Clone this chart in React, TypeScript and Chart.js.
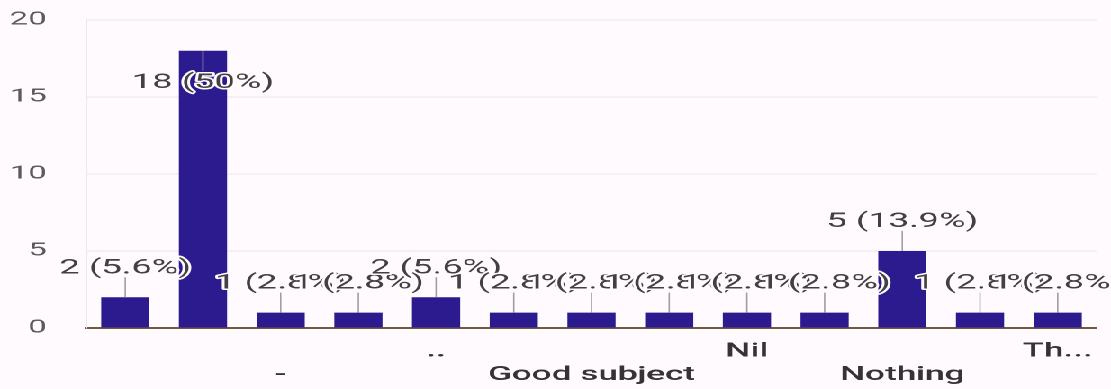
import React, { useEffect, useRef } from "react";
import { Chart, registerables } from "chart.js";

Chart.register(...registerables);

// ---- data ----
const categories = ["", "", "-", "", "..", "", "Good subject", "", "Nil", "", "Nothing", "", "Th..."];
const counts = [2, 18, 1, 1, 2, 1, 1, 1, 1, 1, 5, 1, 1];
const percents = ["5.6%", "50%", "2.8%", "2.8%", "5.6%", "2.8%", "2.8%", "2.8%", "2.8%", "2.8%", "13.9%", "2.8%", "2.8%"];
const yTickValues = [0, 5, 10, 15, 20];

// ---- layout (internal canvas is stretched horizontally to fill the page) ----
const PAGE_W = 1111;
const PAGE_H = 389;
const INNER_W = 617;
const STRETCH = PAGE_W / INNER_W;

const BG = "#fefafe";
const BAR_COLOR = "#2b1b8f";

const valueLabelPlugin = {
  id: "valueLabels",
  afterDatasetsDraw(chart: any) {
    const ctx = chart.ctx as CanvasRenderingContext2D;
    const meta = chart.getDatasetMeta(0);
    const insideFrom = 15;
    const items = meta.data.map((bar: any, i: number) => {
      const v = counts[i];
      const inside = v >= insideFrom;
      const top = bar.y;
      return {
        x: bar.x,
        top,
        lineEnd: inside ? top + 20 : top - 20,
        textY: inside ? top + 32 : top - 29,
        text: `${v} (${percents[i]})`,
      };
    });
    ctx.save();
    ctx.strokeStyle = "#a39ca3";
    ctx.lineWidth = 0.8;
    items.forEach((it: any) => {
      ctx.beginPath();
      ctx.moveTo(it.x, it.top);
      ctx.lineTo(it.x, it.lineEnd);
      ctx.stroke();
    });
    ctx.font = "20.2px Roboto";
    ctx.textAlign = "center";
    ctx.textBaseline = "middle";
    ctx.lineJoin = "round";
    items.forEach((it: any) => {
      ctx.strokeStyle = BG;
      ctx.lineWidth = 3;
      ctx.strokeText(it.text, it.x, it.textY);
      ctx.fillStyle = "#433f43";
      ctx.fillText(it.text, it.x, it.textY);
    });
    ctx.restore();
  },
};

export default function App() {
  const canvasRef = useRef<HTMLCanvasElement | null>(null);

  useEffect(() => {
    document.body.style.margin = "0";
    document.body.style.background = BG;
    document.body.style.overflow = "hidden";
    const canvas = canvasRef.current;
    if (!canvas) return;
    const chart = new Chart(canvas, {
      type: "bar",
      data: {
        labels: categories,
        datasets: [
          {
            data: counts,
            backgroundColor: BAR_COLOR,
            borderWidth: 0,
            barPercentage: 1,
            categoryPercentage: 0.62,
          },
        ],
      },
      options: {
        animation: false,
        responsive: false,
        devicePixelRatio: 2,
        layout: { padding: { left: 6, right: 8, top: 20, bottom: 0 } },
        plugins: { legend: { display: false }, tooltip: { enabled: false } },
        scales: {
          x: {
            afterFit: (axis: any) => {
              axis.height = 61;
              axis.paddingLeft = 0;
              axis.paddingRight = 0;
            },
            grid: { display: false, drawTicks: false },
            border: { display: true, color: "#6e5a46", width: 2 },
            ticks: {
              autoSkip: false,
              maxRotation: 0,
              minRotation: 0,
              padding: 12,
              color: "#363236",
              font: { family: "Roboto", size: 19.5, weight: "500" },
              callback: (_v: any, i: number) => (i % 4 === 2 ? ["", categories[i]] : categories[i]),
            },
          },
          y: {
            min: 0,
            max: 20,
            afterFit: (axis: any) => {
              axis.width = 42;
              axis.paddingTop = 0;
              axis.paddingBottom = 0;
            },
            afterBuildTicks: (axis: any) => {
              axis.ticks = yTickValues.map((v) => ({ value: v }));
            },
            grid: { color: "#f3e3f3", lineWidth: 1, drawTicks: false },
            border: { display: true, color: "#f1e4f1", width: 1 },
            ticks: {
              padding: 22,
              color: "#5e595e",
              font: { family: "Roboto", size: 18.5 },
            },
          },
        },
      },
      plugins: [valueLabelPlugin],
    });
    return () => chart.destroy();
  }, []);

  return (
    <div
      style={{
        width: INNER_W,
        height: PAGE_H,
        transform: `scaleX(${STRETCH})`,
        transformOrigin: "0 0",
        background: BG,
      }}
    >
      <canvas
        ref={canvasRef}
        width={INNER_W}
        height={PAGE_H}
        style={{ display: "block", width: INNER_W + "px", height: PAGE_H + "px" }}
      />
    </div>
  );
}
